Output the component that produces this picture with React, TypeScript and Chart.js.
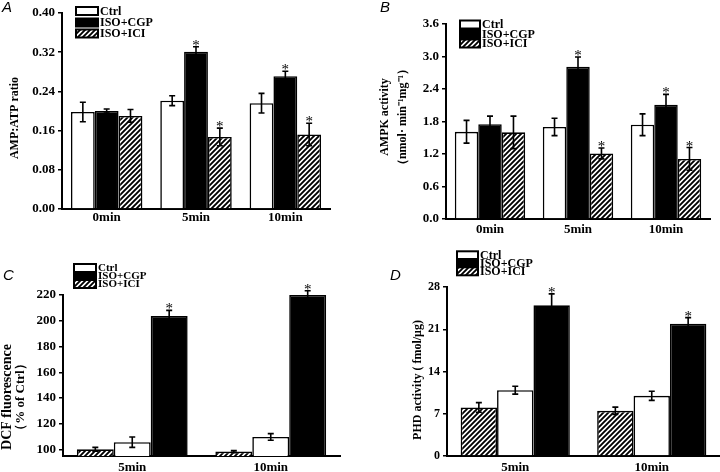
import React, { useEffect, useRef } from 'react';
import { Chart, registerables } from 'chart.js';
Chart.register(...registerables);

// ---------- data ----------
const categoriesAB = ['0min', '5min', '10min'];
const categoriesCD = ['5min', '10min'];
const legendLabels = ['Ctrl', 'ISO+CGP', 'ISO+ICI'];

// Panel A : AMP:ATP ratio
const ctrlA = [0.198, 0.221, 0.216];
const ctrlErrA = [0.02, 0.01, 0.02];
const cgpA = [0.2, 0.321, 0.271];
const cgpErrA = [0.004, 0.01, 0.01];
const iciA = [0.19, 0.147, 0.152];
const iciErrA = [0.013, 0.018, 0.023];
const starsCgpA = [false, true, true];
const starsIciA = [false, true, true];
const ticksA = [0, 0.08, 0.16, 0.24, 0.32, 0.4];
const tickLabelsA = ['0.00', '0.08', '0.16', '0.24', '0.32', '0.40'];

// Panel B : AMPK activity
const ctrlB = [1.61, 1.7, 1.74];
const ctrlErrB = [0.21, 0.16, 0.2];
const cgpB = [1.75, 2.81, 2.11];
const cgpErrB = [0.15, 0.18, 0.19];
const iciB = [1.6, 1.21, 1.11];
const iciErrB = [0.3, 0.1, 0.21];
const starsCgpB = [false, true, true];
const starsIciB = [false, true, true];
const ticksB = [0, 0.6, 1.2, 1.8, 2.4, 3.0, 3.6];
const tickLabelsB = ['0.0', '0.6', '1.2', '1.8', '2.4', '3.0', '3.6'];

// Panel C : DCF fluorescence
const iciC = [100.2, 98.4];
const iciErrC = [1.5, 0.8];
const ctrlC = [105.7, 109.8];
const ctrlErrC = [4, 2.6];
const cgpC = [203.6, 220];
const cgpErrC = [4.5, 3.3];
const starsCgpC = [true, true];
const ticksC = [100, 120, 140, 160, 180, 200, 220];
const tickLabelsC = ['100', '120', '140', '160', '180', '200', '220'];

// Panel D : PHD activity
const iciD = [8.05, 7.49];
const iciErrD = [0.8, 0.6];
const ctrlD = [10.9, 9.97];
const ctrlErrD = [0.65, 0.75];
const cgpD = [24.96, 21.93];
const cgpErrD = [1.9, 1.0];
const starsCgpD = [true, true];
const ticksD = [0, 7, 14, 21, 28];
const tickLabelsD = ['0', '7', '14', '21', '28'];

// ---------- styling ----------
const SERIF = "'Liberation Serif', 'Times New Roman', serif";
const SANS = "'Liberation Sans', Arial, sans-serif";
const W = 360;
const H = 236;

type Kind = 'white' | 'black' | 'hatch';
interface Series { kind: Kind; values: number[]; errs: number[]; stars: boolean[]; label: string }
interface PanelCfg {
  letter: string; letterX: number; letterY: number;
  categories: string[];
  series: Series[];
  yMin: number; yMax: number; ticks: number[]; tickLabels: string[];
  area: { left: number; right: number; top: number; bottom: number };
  tickSize: number; catSize: number; catPad: number;
  titles: { text: string; x: number; size: number }[]; titleY: number;
  legend: { x: number; w: number; h: number; ys: number[]; textX: number; size: number };
}

const none = (n: number) => new Array(n).fill(false);

const panels: PanelCfg[] = [
  {
    letter: 'A', letterX: 2, letterY: 8,
    categories: categoriesAB,
    series: [
      { kind: 'white', values: ctrlA, errs: ctrlErrA, stars: none(3), label: legendLabels[0] },
      { kind: 'black', values: cgpA, errs: cgpErrA, stars: starsCgpA, label: legendLabels[1] },
      { kind: 'hatch', values: iciA, errs: iciErrA, stars: starsIciA, label: legendLabels[2] },
    ],
    yMin: 0, yMax: 0.4, ticks: ticksA, tickLabels: tickLabelsA,
    area: { left: 62, right: 330, top: 13, bottom: 209 },
    tickSize: 13, catSize: 13, catPad: 1,
    titles: [{ text: 'AMP:ATP ratio', x: 15, size: 12 }], titleY: 118,
    legend: { x: 76, w: 22, h: 8, ys: [11, 22.5, 33.5], textX: 100, size: 12 },
  },
  {
    letter: 'B', letterX: 20, letterY: 8,
    categories: categoriesAB,
    series: [
      { kind: 'white', values: ctrlB, errs: ctrlErrB, stars: none(3), label: legendLabels[0] },
      { kind: 'black', values: cgpB, errs: cgpErrB, stars: starsCgpB, label: legendLabels[1] },
      { kind: 'hatch', values: iciB, errs: iciErrB, stars: starsIciB, label: legendLabels[2] },
    ],
    yMin: 0, yMax: 3.6, ticks: ticksB, tickLabels: tickLabelsB,
    area: { left: 86, right: 350, top: 24, bottom: 219 },
    tickSize: 13, catSize: 13, catPad: 3,
    titles: [
      { text: 'AMPK activity', x: 25, size: 12 },
      { text: '（nmol· min⁻¹mg⁻¹）', x: 43, size: 12 },
    ], titleY: 117,
    legend: { x: 100, w: 20, h: 8, ys: [24.5, 34, 43.5], textX: 122, size: 12 },
  },
  {
    letter: 'C', letterX: 3, letterY: 40,
    categories: categoriesCD,
    series: [
      { kind: 'hatch', values: iciC, errs: iciErrC, stars: none(2), label: legendLabels[2] },
      { kind: 'white', values: ctrlC, errs: ctrlErrC, stars: none(2), label: legendLabels[0] },
      { kind: 'black', values: cgpC, errs: cgpErrC, stars: starsCgpC, label: legendLabels[1] },
    ],
    yMin: 95, yMax: 220, ticks: ticksC, tickLabels: tickLabelsC,
    area: { left: 63, right: 340, top: 59, bottom: 220 },
    tickSize: 13, catSize: 13, catPad: 4,
    titles: [
      { text: 'DCF fluorescence', x: 7, size: 14 },
      { text: '（% of Ctrl）', x: 21, size: 13 },
    ], titleY: 161,
    legend: { x: 74, w: 22, h: 8, ys: [32, 40, 48], textX: 98, size: 11 },
  },
  {
    letter: 'D', letterX: 30, letterY: 40,
    categories: categoriesCD,
    series: [
      { kind: 'hatch', values: iciD, errs: iciErrD, stars: none(2), label: legendLabels[2] },
      { kind: 'white', values: ctrlD, errs: ctrlErrD, stars: none(2), label: legendLabels[0] },
      { kind: 'black', values: cgpD, errs: cgpErrD, stars: starsCgpD, label: legendLabels[1] },
    ],
    yMin: 0, yMax: 28, ticks: ticksD, tickLabels: tickLabelsD,
    area: { left: 87, right: 360, top: 51, bottom: 220 },
    tickSize: 12, catSize: 13, catPad: 4,
    titles: [{ text: 'PHD activity ( fmol/μg)', x: 58, size: 12 }], titleY: 144,
    legend: { x: 97, w: 21, h: 8, ys: [19.3, 27, 35.3], textX: 120, size: 12 },
  },
];

function makeHatch(): CanvasPattern | string {
  const s = 5;
  const c = document.createElement('canvas');
  c.width = s; c.height = s;
  const g = c.getContext('2d');
  if (!g) return '#888';
  g.fillStyle = '#fff';
  g.fillRect(0, 0, s, s);
  g.strokeStyle = '#000';
  g.lineWidth = 1.9;
  g.beginPath();
  for (const k of [0, s, 2 * s]) {
    g.moveTo(k + 1, -1);
    g.lineTo(k - s - 1, s + 1);
  }
  g.stroke();
  return g.createPattern(c, 'repeat') || '#888';
}

function fillFor(kind: Kind, hatch: CanvasPattern | string) {
  if (kind === 'white') return '#ffffff';
  if (kind === 'black') return '#000000';
  return hatch;
}

const decorPlugin = {
  id: 'decor',
  afterDraw(chart: any, _args: any, opts: any) {
    const p: PanelCfg = opts.panel;
    const hatch = opts.hatch;
    const ctx: CanvasRenderingContext2D = chart.ctx;
    const ys = chart.scales.y;
    ctx.save();
    // error bars and significance stars
    chart.data.datasets.forEach((ds: any, i: number) => {
      const meta = chart.getDatasetMeta(i);
      meta.data.forEach((bar: any, j: number) => {
        const v = ds.data[j];
        const e = ds.errs[j];
        const x = bar.x;
        const yT = ys.getPixelForValue(v + e);
        const yB = ys.getPixelForValue(v - e);
        ctx.strokeStyle = '#000';
        ctx.lineWidth = 1.6;
        ctx.beginPath();
        ctx.moveTo(x, yT); ctx.lineTo(x, yB);
        ctx.moveTo(x - 3, yT); ctx.lineTo(x + 3, yT);
        ctx.moveTo(x - 3, yB); ctx.lineTo(x + 3, yB);
        ctx.stroke();
        if (ds.stars[j]) {
          ctx.fillStyle = '#000';
          ctx.font = `15px ${SERIF}`;
          ctx.textAlign = 'center';
          ctx.textBaseline = 'alphabetic';
          ctx.fillText('*', x, yT + 3);
        }
      });
    });
    // y-axis titles
    ctx.fillStyle = '#000';
    p.titles.forEach((t) => {
      ctx.save();
      ctx.translate(t.x, p.titleY);
      ctx.rotate(-Math.PI / 2);
      ctx.font = `bold ${t.size}px ${SERIF}`;
      ctx.textAlign = 'center';
      ctx.textBaseline = 'middle';
      ctx.fillText(t.text, 0, 0);
      ctx.restore();
    });
    // panel letter
    ctx.font = `italic 15px ${SANS}`;
    ctx.textAlign = 'left';
    ctx.textBaseline = 'middle';
    ctx.fillText(p.letter, p.letterX, p.letterY);
    // legend (Ctrl, ISO+CGP, ISO+ICI)
    const order: Kind[] = ['white', 'black', 'hatch'];
    const L = p.legend;
    order.forEach((k, i) => {
      const y = L.ys[i];
      ctx.fillStyle = fillFor(k, hatch) as any;
      ctx.fillRect(L.x, y - L.h / 2, L.w, L.h);
      ctx.strokeStyle = '#000';
      ctx.lineWidth = 2;
      ctx.strokeRect(L.x, y - L.h / 2, L.w, L.h);
      ctx.fillStyle = '#000';
      ctx.font = `bold ${L.size}px ${SERIF}`;
      ctx.textAlign = 'left';
      ctx.textBaseline = 'middle';
      ctx.fillText(legendLabels[i], L.textX, y + 0.5);
    });
    ctx.restore();
  },
};

function buildConfig(p: PanelCfg, hatch: CanvasPattern | string): any {
  return {
    type: 'bar',
    data: {
      labels: p.categories,
      datasets: p.series.map((s) => ({
        label: s.label,
        data: s.values,
        errs: s.errs,
        stars: s.stars,
        backgroundColor: fillFor(s.kind, hatch),
        borderColor: '#000',
        borderWidth: 1.6,
        categoryPercentage: 0.8,
        barPercentage: 1.0,
      })),
    },
    options: {
      responsive: false,
      animation: false,
      events: [],
      layout: { padding: { left: 0, right: W - p.area.right, top: p.area.top, bottom: 0 } },
      plugins: {
        legend: { display: false },
        tooltip: { enabled: false },
        title: { display: false },
        decor: { panel: p, hatch },
      },
      scales: {
        x: {
          type: 'category',
          offset: true,
          grid: { display: false, drawTicks: false, tickLength: 0 },
          border: { display: true, color: '#000', width: 2 },
          ticks: {
            color: '#000',
            font: { family: SERIF, weight: 'bold', size: p.catSize },
            padding: p.catPad,
            maxRotation: 0,
            autoSkip: false,
          },
          afterFit: (s: any) => { s.height = H - p.area.bottom; },
        },
        y: {
          type: 'linear',
          min: p.yMin,
          max: p.yMax,
          grid: { display: true, drawOnChartArea: false, drawTicks: true, tickLength: 4, color: '#000', lineWidth: 1.5 },
          border: { display: true, color: '#000', width: 2 },
          ticks: {
            color: '#000',
            font: { family: SERIF, weight: 'bold', size: p.tickSize },
            padding: 3,
            callback: (_v: any, i: number) => p.tickLabels[i],
          },
          afterBuildTicks: (s: any) => { s.ticks = p.ticks.map((v) => ({ value: v })); },
          afterFit: (s: any) => { s.width = p.area.left; },
        },
      },
    },
    plugins: [decorPlugin],
  };
}

function Panel({ cfg, left, top }: { cfg: PanelCfg; left: number; top: number }) {
  const ref = useRef<HTMLCanvasElement>(null);
  useEffect(() => {
    if (!ref.current) return;
    const chart = new Chart(ref.current, buildConfig(cfg, makeHatch()));
    return () => chart.destroy();
  }, [cfg]);
  return (
    <div style={{ position: 'absolute', left, top, width: W, height: H }}>
      <canvas ref={ref} width={W} height={H} style={{ display: 'block', width: W, height: H }} />
    </div>
  );
}

export default function App() {
  return (
    <div style={{ position: 'absolute', left: 0, top: 0, width: 720, height: 472, background: '#fff', overflow: 'hidden' }}>
      <Panel cfg={panels[0]} left={0} top={0} />
      <Panel cfg={panels[1]} left={360} top={0} />
      <Panel cfg={panels[2]} left={0} top={236} />
      <Panel cfg={panels[3]} left={360} top={236} />
    </div>
  );
}
